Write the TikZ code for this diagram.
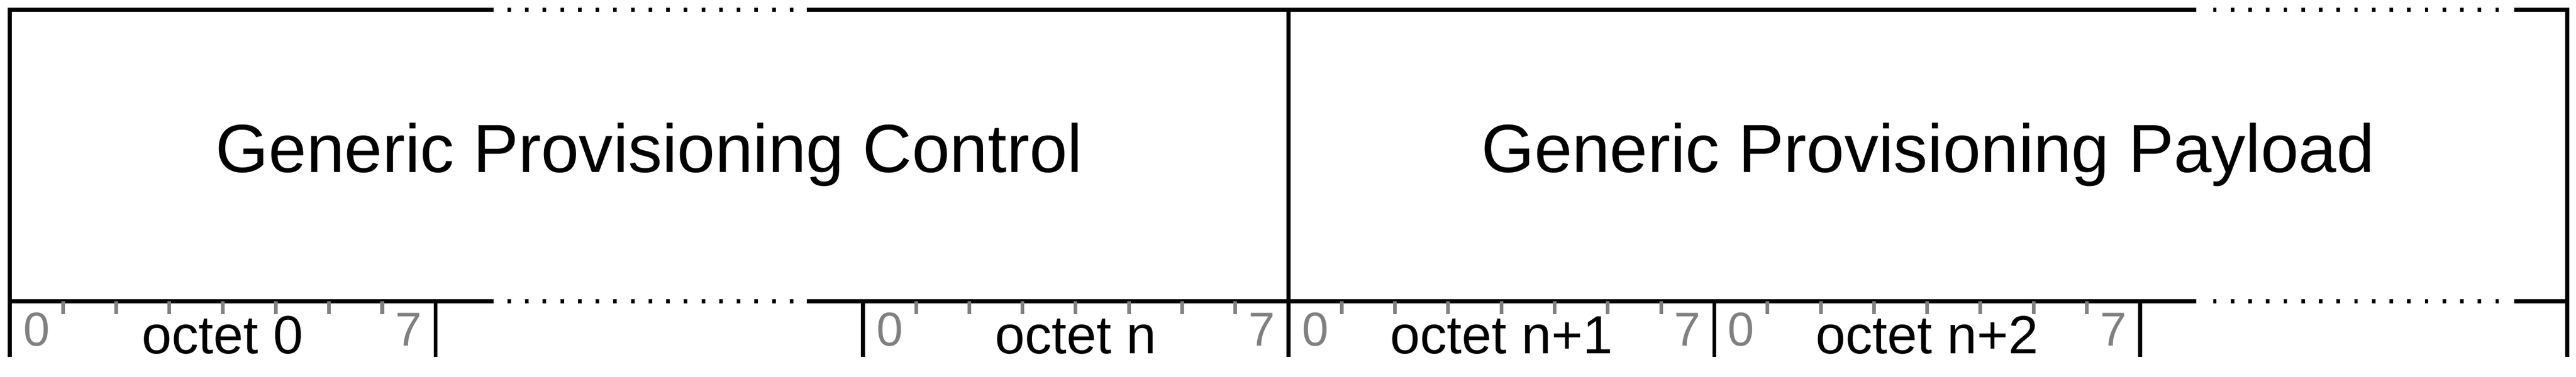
\documentclass[tikz,border=0pt]{standalone}
\usepackage{fontspec}
\setmainfont{Liberation Sans}
\usetikzlibrary{positioning}
\definecolor{bitgray}{RGB}{128,128,128}

\tikzset{
  frame/.style={line width=0.25mm, black},
  dotline/.style={line width=0.25mm, dash pattern=on 0.225mm off 0.895mm},
  bittick/.style={line width=0.23mm, bitgray},
  bitnum/.style={font=\fontsize{8.6}{10}\selectfont, text=bitgray, anchor=base, inner sep=0pt},
  octetlabel/.style={font=\fontsize{9.7}{11}\selectfont, anchor=base, inner sep=0pt},
  fieldlabel/.style={font=\fontsize{12.3}{14}\selectfont, anchor=base, inner sep=0pt}
}

\begin{document}
\begin{tikzpicture}[x=0.25mm, y=0.25mm]
  \useasboundingbox (0,0) rectangle (654.1,95.7);

  % Top edge, with the two elided parts
  \draw[frame] (2.5,5.0) -- (2.5,93.2) -- (125.3,93.2);
  \draw[dotline] (128.85,93.2) -- (201.5,93.2);
  \draw[frame] (204.9,93.2) -- (557.7,93.2);
  \draw[dotline] (561.95,93.2) -- (634.6,93.2);
  \draw[frame] (638.4,93.2) -- (651.9,93.2) -- (651.9,5.0);

  % Bottom edge of the fields
  \draw[frame] (2.5,19.2) -- (125.3,19.2);
  \draw[dotline] (128.85,19.2) -- (201.5,19.2);
  \draw[frame] (204.9,19.2) -- (557.7,19.2);
  \draw[dotline] (561.95,19.2) -- (634.6,19.2);
  \draw[frame] (638.4,19.2) -- (651.9,19.2);

  % Divider between the two fields
  \draw[frame] (327.2,93.2) -- (327.2,5.0);

  % Field names
  \node[fieldlabel] (control) at (164.85,51.9) {Generic Provisioning Control};
  \node[fieldlabel] (payload) at (489.55,51.9) {Generic Provisioning Payload};

  % Octets with their bit ticks
  \foreach \x/\name/\lbl in {2.5/oct0/octet 0, 219.1/octn/octet n, 327.2/octn1/octet n+1, 435.3/octn2/octet n+2} {
    \draw[frame] (\x,19.2) -- (\x,5.0);
    \draw[frame] (\x+108.1,19.2) -- (\x+108.1,5.0);
    \foreach \k in {1,...,7}
      \draw[bittick] (\x+\k*13.51,19.2) -- (\x+\k*13.51,15.9);
    \node[bitnum] (\name-lo) at (\x+6.8,7.8) {0};
    \node[bitnum] (\name-hi) at (\x+101.3,7.8) {7};
    \node[octetlabel] (\name) at (\x+54.05,5.9) {\lbl};
  }
\end{tikzpicture}
\end{document}
